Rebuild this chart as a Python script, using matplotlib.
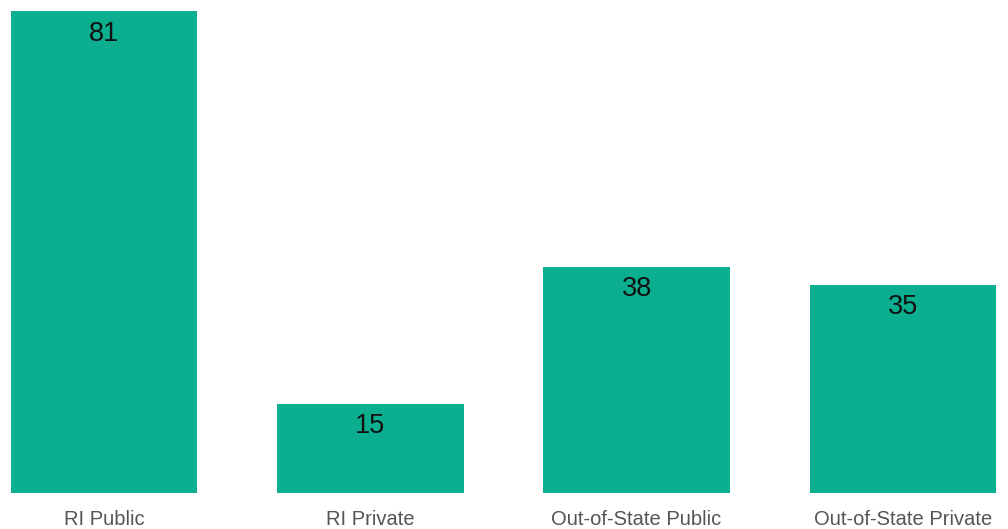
import matplotlib.pyplot as plt

categories = ["RI Public", "RI Private", "Out-of-State Public", "Out-of-State Private"]
values = [81, 15, 38, 35]

plt.rcParams["font.family"] = ["Liberation Sans", "DejaVu Sans"]

fig = plt.figure(figsize=(10.08, 5.29), dpi=100)
ax = fig.add_axes([11 / 1008, 36 / 529, 985 / 1008, 482 / 529])

x = range(len(categories))
bars = ax.bar(x, values, width=0.7, color="#0BAE8F")

for b, v in zip(bars, values):
    ax.text(b.get_x() + b.get_width() / 2, v - 1.6, str(v),
            ha="center", va="top", fontsize=19.5, color="#111111")

ax.set_xlim(-0.35, 3.35)
ax.set_ylim(0, 81)
ax.set_xticks(list(x))
ax.set_xticklabels(categories, fontsize=14.5, color="#555555")
ax.tick_params(axis="x", length=0, pad=12)
ax.set_yticks([])
for s in ax.spines.values():
    s.set_visible(False)

fig.savefig("out.png", dpi=100)
